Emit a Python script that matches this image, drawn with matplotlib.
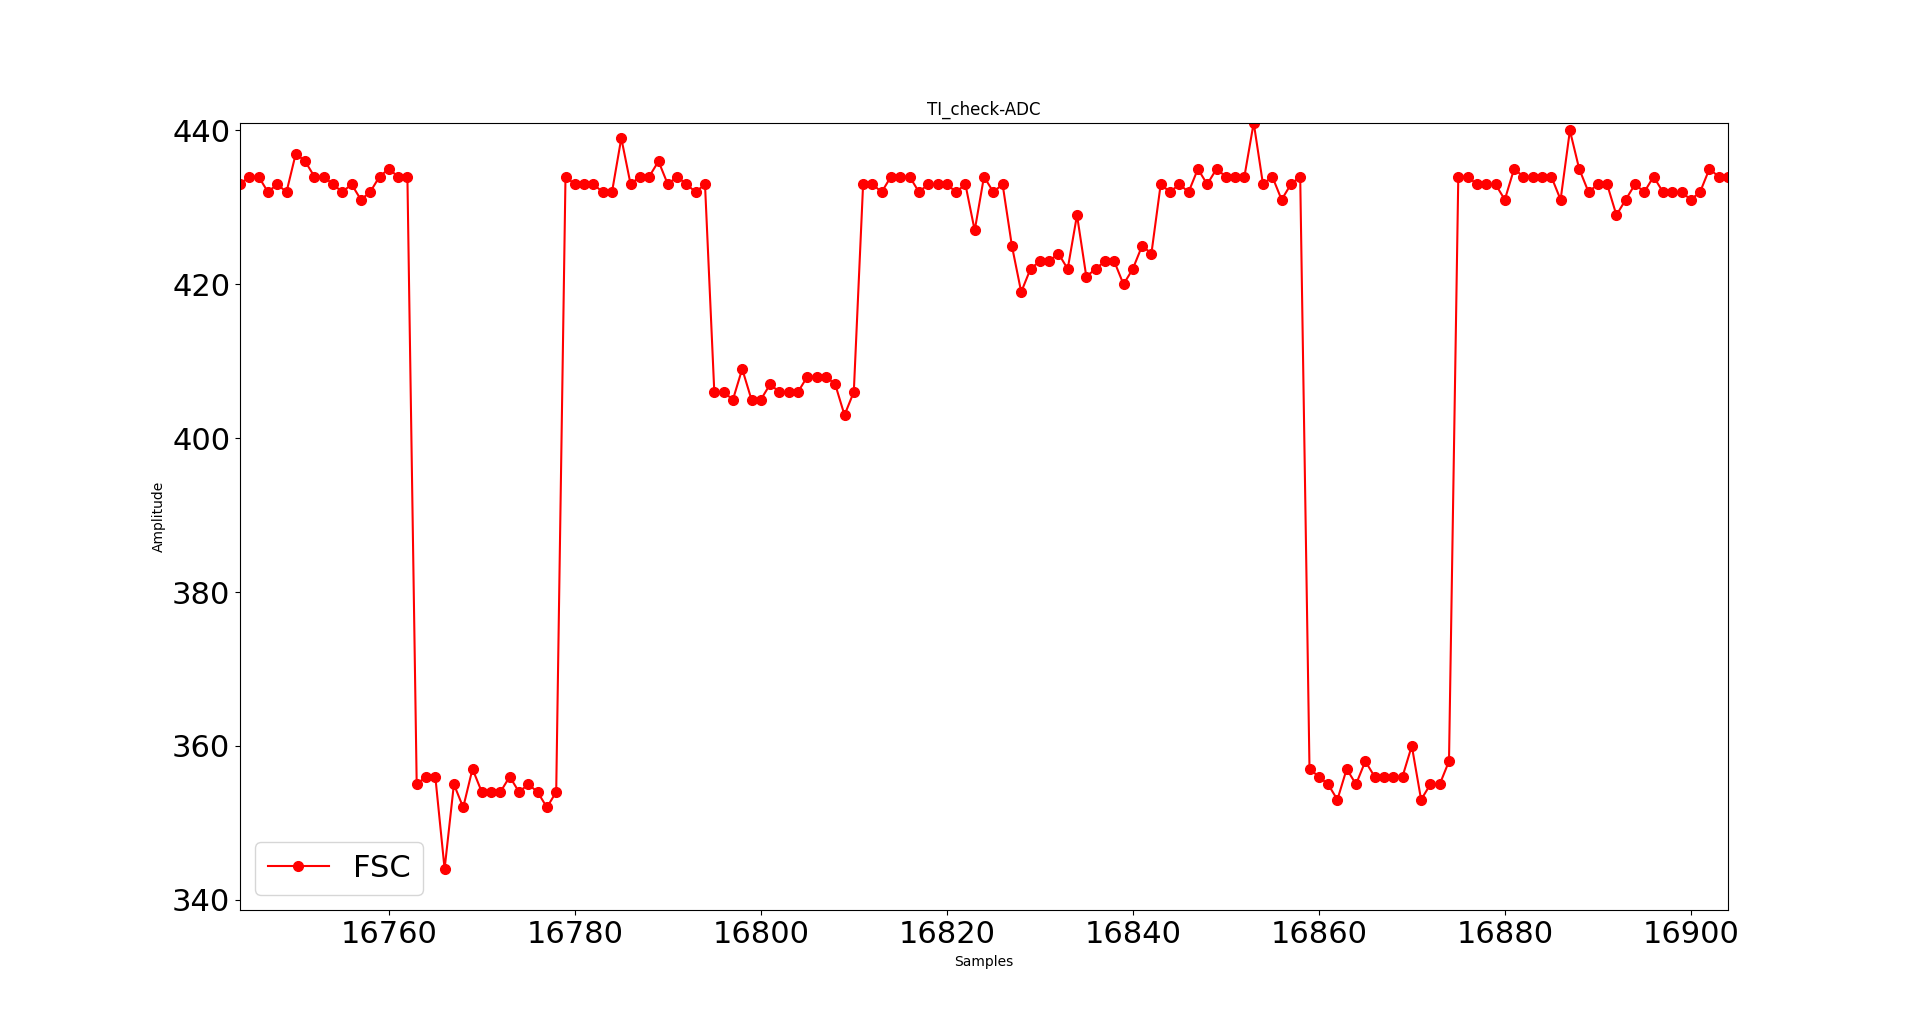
import numpy as np
import matplotlib
matplotlib.use("Agg")
import matplotlib.pyplot as plt

start_sample = 16744
fsc = [
    433, 434, 434, 432, 433, 432, 437, 436, 434, 434,
    433, 432, 433, 431, 432, 434, 435, 434, 434, 355,
    356, 356, 344, 355, 352, 357, 354, 354, 354, 356,
    354, 355, 354, 352, 354, 434, 433, 433, 433, 432,
    432, 439, 433, 434, 434, 436, 433, 434, 433, 432,
    433, 406, 406, 405, 409, 405, 405, 407, 406, 406,
    406, 408, 408, 408, 407, 403, 406, 433, 433, 432,
    434, 434, 434, 432, 433, 433, 433, 432, 433, 427,
    434, 432, 433, 425, 419, 422, 423, 423, 424, 422,
    429, 421, 422, 423, 423, 420, 422, 425, 424, 433,
    432, 433, 432, 435, 433, 435, 434, 434, 434, 441,
    433, 434, 431, 433, 434, 357, 356, 355, 353, 357,
    355, 358, 356, 356, 356, 356, 360, 353, 355, 355,
    358, 434, 434, 433, 433, 433, 431, 435, 434, 434,
    434, 434, 431, 440, 435, 432, 433, 433, 429, 431,
    433, 432, 434, 432, 432, 432, 431, 432, 435, 434,
    434,
]
samples = np.arange(start_sample, start_sample + len(fsc))

fig = plt.figure(figsize=(19.2, 10.23), dpi=100)
ax = fig.add_subplot(111)

ax.plot(samples, fsc, color="red", marker="o", markersize=7, linewidth=1.5, label="FSC")

ax.set_xlim(samples[0], samples[-1])
ax.set_ylim(338.6, 441)
ax.set_title("TI_check-ADC")
ax.set_xlabel("Samples")
ax.set_ylabel("Amplitude")
ax.tick_params(axis="both", labelsize=22)
ax.legend(loc="lower left", fontsize=22)

fig.savefig("out.png", dpi=100)
